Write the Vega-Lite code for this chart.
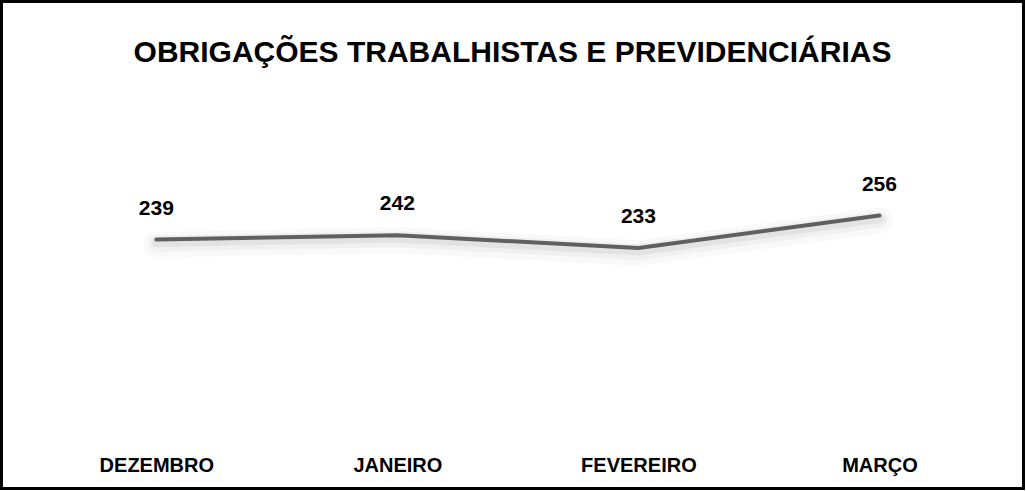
{
  "$schema": "https://vega.github.io/schema/vega-lite/v6.json",
  "autosize": "none",
  "width": 1022,
  "height": 487,
  "padding": {"left": 1.5, "top": 1.5, "right": 2.5, "bottom": 2.5},
  "background": "white",
  "config": {
    "view": {"stroke": "#000000", "strokeWidth": 3},
    "font": "Liberation Sans"
  },
  "title": {
    "text": "OBRIGAÇÕES TRABALHISTAS E PREVIDENCIÁRIAS",
    "frame": "group",
    "anchor": "middle",
    "offset": -66,
    "fontSize": 30,
    "fontWeight": "bold",
    "color": "#000000",
    "baseline": "top"
  },
  "data": {
    "values": [
      {"mes": "DEZEMBRO", "valor": 239},
      {"mes": "JANEIRO", "valor": 242},
      {"mes": "FEVEREIRO", "valor": 233},
      {"mes": "MARÇO", "valor": 256}
    ]
  },
  "encoding": {
    "x": {
      "field": "mes",
      "type": "ordinal",
      "sort": null,
      "scale": {"type": "point", "padding": 0.62, "align": 0.518},
      "axis": {
        "title": null,
        "domain": false,
        "ticks": false,
        "grid": false,
        "offset": -33,
        "labelPadding": 0,
        "labelAngle": 0,
        "labelFontSize": 20,
        "labelFontWeight": "bold",
        "labelColor": "#000000",
        "labelBaseline": "top"
      }
    },
    "y": {
      "field": "valor",
      "type": "quantitative",
      "scale": {"domain": [62.4, 407.8], "zero": false, "nice": false},
      "axis": null
    }
  },
  "layer": [
    {
      "mark": {"type": "line", "stroke": "#000000", "strokeWidth": 26, "opacity": 0.025, "yOffset": 5, "strokeCap": "round", "strokeJoin": "round"}
    },
    {
      "mark": {"type": "line", "stroke": "#000000", "strokeWidth": 16, "opacity": 0.035, "yOffset": 4, "strokeCap": "round", "strokeJoin": "round"}
    },
    {
      "mark": {"type": "line", "stroke": "#000000", "strokeWidth": 9, "opacity": 0.05, "yOffset": 3, "strokeCap": "round", "strokeJoin": "round"}
    },
    {
      "mark": {"type": "line", "stroke": "#606060", "strokeWidth": 4, "strokeCap": "round", "strokeJoin": "round"}
    },
    {
      "mark": {"type": "text", "dy": -31, "fontSize": 21, "fontWeight": "bold", "color": "#000000", "baseline": "middle"},
      "encoding": {"text": {"field": "valor", "type": "quantitative"}}
    }
  ]
}
